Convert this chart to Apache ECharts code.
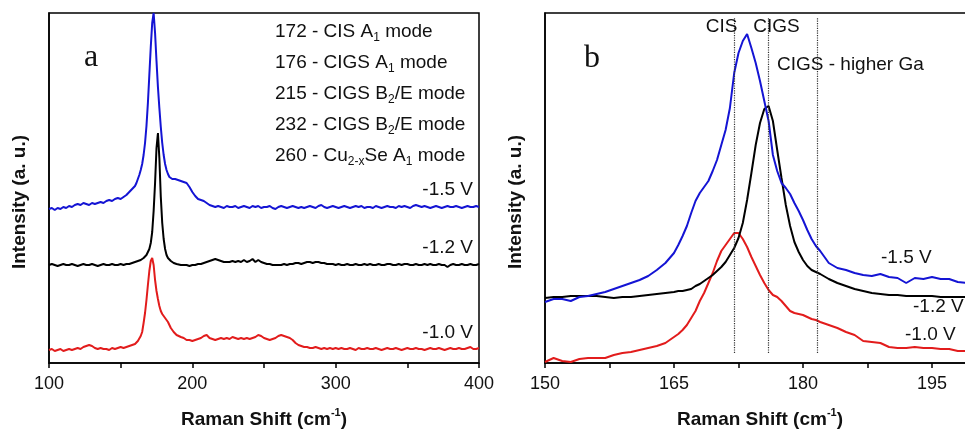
<!DOCTYPE html>
<html>
<head>
<meta charset="utf-8">
<script src="https://cdn.jsdelivr.net/npm/echarts@6/dist/echarts.min.js"></script>
<style>
html, body { margin: 0; padding: 0; background: #fff; }
#chart { width: 965px; height: 430px; }
</style>
</head>
<body>
<div id="chart"></div>
<script>
// ---------- Panel a: full Raman spectra, 100-400 cm-1 (offset traces) ----------
const shiftA = [
  100,102,104,106,108,110,112,114,116,118,
  120,122,124,126,128,130,132,134,136,138,
  140,142,144,146,148,150,152,154,156,158,
  160,
  161,162,163,164,165,166,167,168,169,170,
  171,172,173,174,175,176,177,178,179,180,
  181,182,183,184,185,186,187,188,189,190,
  192,194,196,198,200,202,204,206,208,210,
  212,214,216,218,220,222,224,226,228,230,
  232,234,236,238,240,242,244,246,248,250,
  252,254,256,258,260,262,264,266,268,270,
  272,274,276,278,280,282,284,286,288,290,
  292,294,296,298,300,302,304,306,308,310,
  312,314,316,318,320,322,324,326,328,330,
  332,334,336,338,340,342,344,346,348,350,
  352,354,356,358,360,362,364,366,368,370,
  372,374,376,378,380,382,384,386,388,390,
  392,394,396,398,400
];

// -1.5 V
const spec15A = [
  154,155,153,155,154,156,155,157,156,158,
  159,158,160,159,158,160,159,160,161,160,
  162,163,162,164,165,164,166,168,171,174,
  177,
  180,184,188,193,199,208,220,237,260,288,
  316,340,350,330,302,276,255,236,220,208,
  199,193,189,186,185,184,183,184,182,183,
  182,181,180,176,171,167,164,163,162,160,
  158,157,156,157,156,155,157,156,156,157,
  155,156,157,156,155,157,156,157,155,156,
  156,157,155,154,156,157,156,155,156,157,
  156,155,156,155,156,157,156,155,157,158,
  156,155,156,157,156,155,156,157,156,155,
  156,157,156,157,155,156,156,155,157,156,
  155,156,157,156,156,155,157,156,157,156,
  155,157,158,157,156,157,156,155,156,157,
  156,155,156,157,156,156,157,156,155,156,
  157,156,156,157,156
];

// -1.2 V
const spec12A = [
  98,99,98,97,98,99,98,98,99,98,
  97,98,99,98,98,99,98,97,98,99,
  98,98,99,98,98,99,98,99,99,100,
  101,
  101,102,102,103,104,105,106,108,110,114,
  120,131,152,180,215,230,205,166,140,124,
  114,108,105,103,102,101,100,99,99,98,
  98,98,98,97,98,98,99,99,100,101,
  102,103,104,103,102,101,101,101,102,101,
  102,101,103,101,102,104,101,103,101,100,
  99,99,98,98,98,98,99,98,99,99,
  100,100,99,100,101,101,100,101,101,100,
  100,99,99,99,98,99,98,98,99,98,
  98,99,98,98,99,98,99,98,98,99,
  98,98,99,99,98,98,99,98,99,99,
  98,98,99,98,98,99,98,99,98,98,
  99,98,98,96,98,99,98,98,99,98,
  98,99,98,98,99
];

// -1.0 V
const spec10A = [
  13,14,12,13,14,12,13,14,13,14,
  15,14,16,17,18,17,15,14,15,14,
  14,13,15,14,15,16,15,16,17,18,
  19,
  20,22,24,27,31,40,50,63,78,92,
  102,105,98,83,72,64,57,52,49,47,
  45,43,41,38,35,33,31,29,28,27,
  26,25,23,23,22,23,24,25,27,28,
  25,24,23,24,25,24,25,24,26,25,
  24,25,24,25,24,25,26,28,27,25,
  24,23,24,25,27,28,27,26,25,23,
  20,18,17,16,16,15,15,16,15,14,
  15,14,15,14,15,14,15,14,14,15,
  14,13,15,14,14,15,14,14,15,14,
  13,14,15,14,14,15,14,13,14,15,
  14,14,15,14,14,13,14,15,14,14,
  15,14,13,14,15,14,14,15,14,14,
  15,16,14,14,15
];

// ---------- Panel b: zoom on the A1 region, 150-200 cm-1 ----------
const shiftB = [
  150,151,152,153,154,155,156,157,158,159,160,161,162,163,164,165,
  165.5,166,166.5,167,167.5,168,168.5,169,169.5,170,170.5,171,171.5,172,172.5,173,173.5,
  174,174.5,175,175.5,176,176.5,177,177.5,178,178.5,179,179.5,180,180.5,181,181.5,182,
  183,184,185,186,187,188,189,190,191,192,193,194,195,196,197,198,199,200
];

const spec15B = [
  61,64,64,62,66,67,69,71,74,77,80,83,87,93,100,110,
  118,127,137,150,162,170,176,182,192,203,218,233,255,290,310,322,329,
  315,300,282,262,242,208,192,180,175,169,160,152,143,133,124,117,112,
  100,95,93,90,88,87,89,86,85,80,85,84,86,84,84,81,80,80
];

const spec12B = [
  65,66,66,67,67,67,67,66,65,66,66,67,68,69,70,71,
  72,72,73,74,77,79,82,85,88,92,96,101,108,115,125,140,163,
  190,218,240,254,257,242,213,185,158,137,121,111,103,97,93,91,89,
  84,80,77,74,72,70,69,68,68,67,67,67,67,66,66,66,66,66
];

const spec10B = [
  1,5,2,1,4,5,5,5,8,10,11,13,15,17,20,26,
  29,33,38,45,52,62,70,80,90,102,112,118,124,130,130,124,116,
  106,97,88,80,73,68,66,62,57,52,50,49,48,46,44,43,41,
  38,35,31,28,22,21,20,16,15,15,16,15,15,14,14,12,12,12
];

// Reference mode positions (cm-1) drawn as dotted guides in panel b
const modeGuides = [172, 176, 181.6];
const guideSpan = [10, 346];

// Text content
const voltageLabels = ['-1.5 V', '-1.2 V', '-1.0 V'];
const modeNotes = [
  '{t|172 - CIS A}{s|1}{t| mode}',
  '{t|176 - CIGS A}{s|1}{t| mode}',
  '{t|215 - CIGS B}{s|2}{t|/E mode}',
  '{t|232 - CIGS B}{s|2}{t|/E mode}',
  '{t|260 - Cu}{s|2-x}{t|Se A}{s|1}{t| mode}'
];
const guideNames = ['CIS', 'CIGS', 'CIGS - higher Ga'];
const xTitle = '{b|Raman Shift (cm}{p|-1}{b|)}';
const yTitle = 'Intensity (a. u.)';

// ---------- styling ----------
const FONT = 'Liberation Sans';
const SERIF = 'Liberation Serif';
const INK = '#111';
const BLUE = '#1414d4';
const BLACK = '#000';
const RED = '#e21c1c';

const pairs = (xs, ys) => xs.map((x, i) => [x, ys[i]]);

const titleRich = {
  b: { fontFamily: FONT, fontSize: 19, fontWeight: 'bold', color: INK, lineHeight: 26 },
  p: { fontFamily: FONT, fontSize: 11, fontWeight: 'bold', color: INK, lineHeight: 10, verticalAlign: 'top' }
};

function xAxisFor(gridIndex, min, max, interval, namePad) {
  return {
    type: 'value', gridIndex, min, max, interval,
    axisLine: { show: true, onZero: false, lineStyle: { color: '#000', width: 1.5 } },
    axisTick: { show: true, inside: false, length: 5, lineStyle: { color: '#000', width: 1.5 } },
    minorTick: { show: true, splitNumber: 2, length: 5, lineStyle: { color: '#000', width: 1.5 } },
    axisLabel: { color: INK, fontFamily: FONT, fontSize: 18, margin: 12, hideOverlap: false },
    splitLine: { show: false },
    minorSplitLine: { show: false },
    name: xTitle, nameLocation: 'middle', nameGap: 44,
    nameTextStyle: {
      fontFamily: FONT, fontSize: 19, fontWeight: 'bold', color: INK,
      padding: namePad, rich: titleRich
    }
  };
}

function yAxisFor(gridIndex) {
  return {
    type: 'value', gridIndex, min: 0, max: 350,
    axisLine: { show: true, lineStyle: { color: '#000', width: 1.5 } },
    axisTick: { show: false },
    axisLabel: { show: false },
    splitLine: { show: false },
    name: yTitle, nameLocation: 'middle', nameGap: 20,
    nameTextStyle: {
      fontFamily: FONT, fontSize: 19, fontWeight: 'bold', color: INK,
      padding: [0, 28, 0, 0]
    }
  };
}

function trace(xi, data, color, extra) {
  return Object.assign({
    type: 'line', xAxisIndex: xi, yAxisIndex: xi, data,
    symbol: 'none', silent: true, clip: true,
    lineStyle: { color, width: 2 }, itemStyle: { color }
  }, extra || {});
}

function note(x, y, text, opts) {
  return {
    type: 'text', x, y, silent: true, z: 50,
    style: Object.assign({
      text, fill: INK, fontFamily: FONT, fontSize: 19,
      align: 'left', verticalAlign: 'middle'
    }, opts || {})
  };
}

const legendRich = {
  t: { fontFamily: FONT, fontSize: 19, fill: INK, lineHeight: 24 },
  s: { fontFamily: FONT, fontSize: 12, fill: INK, lineHeight: 10, verticalAlign: 'bottom' }
};

const legendRows = [31.7, 62.7, 93.7, 124.7, 155.7];

const graphics = [
  note(91, 58, 'a', { fontFamily: SERIF, fontSize: 32, align: 'center' }),
  note(584, 58.5, 'b', { fontFamily: SERIF, fontSize: 32 }),
  ...modeNotes.map((t, i) => note(275, legendRows[i], t, { rich: legendRich })),
  note(473, 190, voltageLabels[0], { align: 'right' }),
  note(473, 248, voltageLabels[1], { align: 'right' }),
  note(473, 333, voltageLabels[2], { align: 'right' }),
  note(721.5, 27, guideNames[0], { align: 'center' }),
  note(776.5, 27, guideNames[1], { align: 'center' }),
  note(777, 65, guideNames[2]),
  note(881, 258, voltageLabels[0]),
  note(913, 307, voltageLabels[1]),
  note(905, 335, voltageLabels[2])
];

const chart = echarts.init(document.getElementById('chart'), null, { renderer: 'canvas' });
chart.setOption({
  animation: false,
  backgroundColor: '#fff',
  grid: [
    { left: 49, right: 486, top: 13, bottom: 67, show: true, borderColor: '#000', borderWidth: 1.5,
      containLabel: false, outerBoundsMode: 'none' },
    { left: 545, right: -96, top: 13, bottom: 67, show: true, borderColor: '#000', borderWidth: 1.5,
      containLabel: false, outerBoundsMode: 'none' }
  ],
  xAxis: [
    xAxisFor(0, 100, 400, 100, 0),
    xAxisFor(1, 150, 210, 15, [0, 86, 0, 0])
  ],
  yAxis: [yAxisFor(0), yAxisFor(1)],
  series: [
    trace(0, pairs(shiftA, spec10A), RED),
    trace(0, pairs(shiftA, spec12A), BLACK),
    trace(0, pairs(shiftA, spec15A), BLUE),
    trace(1, pairs(shiftB, spec10B), RED, {
      markLine: {
        silent: true, animation: false, symbol: ['none', 'none'],
        label: { show: false },
        lineStyle: { type: 'dotted', color: '#333', width: 1.2 },
        data: modeGuides.map(g => [{ coord: [g, guideSpan[0]] }, { coord: [g, guideSpan[1]] }])
      }
    }),
    trace(1, pairs(shiftB, spec12B), BLACK),
    trace(1, pairs(shiftB, spec15B), BLUE)
  ],
  graphic: graphics
});
</script>
</body>
</html>
